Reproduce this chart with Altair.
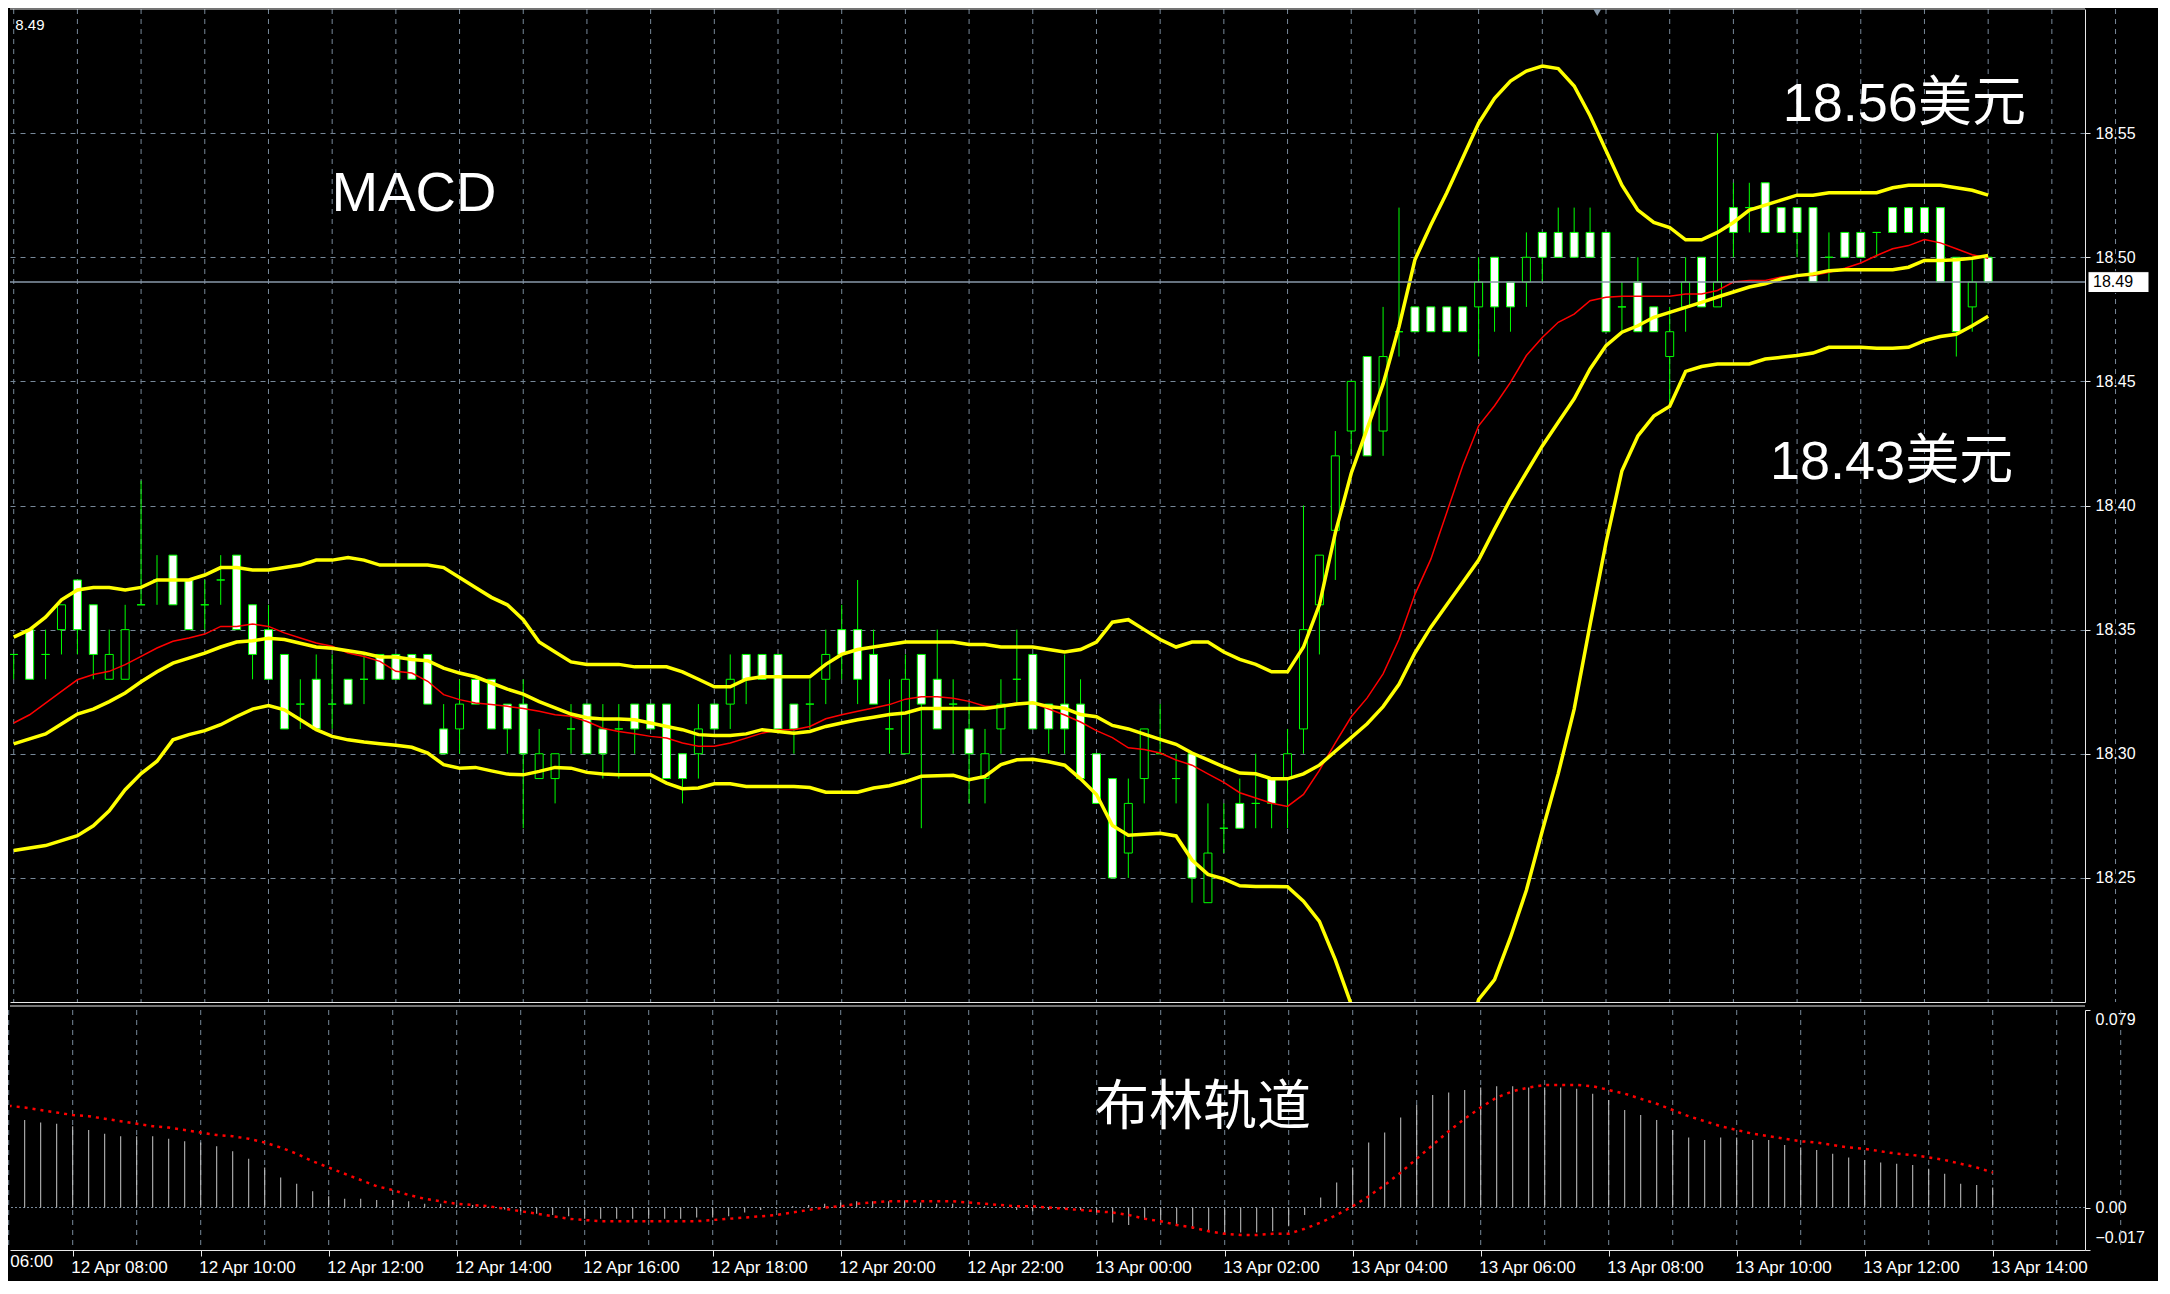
import altair as alt
import pandas as pd

# ---------------- data (15-minute bars, 12 Apr 07:00 -> 13 Apr 14:00) ----------------
bar_start = "2017-04-12 07:00"
n_bars = 125

open_p = [18.34,18.35,18.34,18.35,18.37,18.36,18.33,18.33,18.36,18.37,18.38,18.37,18.36,18.37,18.38,18.36,18.35,18.34,18.32,18.33,
          18.32,18.33,18.33,18.34,18.34,18.34,18.34,18.31,18.31,18.33,18.33,18.32,18.32,18.29,18.29,18.31,18.32,18.31,18.31,18.32,
          18.32,18.32,18.30,18.30,18.32,18.32,18.34,18.34,18.34,18.32,18.32,18.33,18.35,18.35,18.34,18.31,18.30,18.34,18.33,18.32,
          18.31,18.29,18.31,18.33,18.34,18.32,18.32,18.32,18.30,18.29,18.26,18.29,18.30,18.29,18.30,18.24,18.27,18.28,18.28,18.29,
          18.29,18.31,18.36,18.39,18.43,18.46,18.43,18.47,18.48,18.48,18.48,18.48,18.48,18.50,18.49,18.49,18.51,18.51,18.51,18.51,
          18.51,18.48,18.49,18.48,18.46,18.48,18.50,18.48,18.52,18.52,18.53,18.52,18.52,18.52,18.50,18.51,18.51,18.51,18.52,18.52,
          18.52,18.52,18.50,18.48,18.50]
high_p = [18.34,18.35,18.35,18.36,18.37,18.36,18.35,18.36,18.41,18.38,18.38,18.37,18.37,18.38,18.38,18.36,18.36,18.34,18.33,18.34,
          18.34,18.33,18.34,18.34,18.34,18.34,18.34,18.32,18.33,18.33,18.33,18.32,18.33,18.31,18.30,18.32,18.32,18.32,18.32,18.32,
          18.32,18.32,18.30,18.32,18.32,18.34,18.34,18.34,18.34,18.32,18.33,18.35,18.36,18.37,18.35,18.33,18.34,18.34,18.35,18.33,
          18.32,18.31,18.33,18.35,18.34,18.32,18.34,18.33,18.30,18.29,18.29,18.31,18.32,18.30,18.30,18.28,18.28,18.29,18.30,18.29,
          18.31,18.40,18.38,18.43,18.45,18.46,18.48,18.52,18.48,18.48,18.48,18.48,18.50,18.50,18.49,18.51,18.51,18.52,18.52,18.52,
          18.51,18.49,18.50,18.48,18.48,18.50,18.50,18.55,18.53,18.53,18.53,18.52,18.52,18.52,18.51,18.51,18.51,18.51,18.52,18.52,
          18.52,18.52,18.50,18.50,18.50]
low_p = [18.33,18.33,18.33,18.34,18.34,18.33,18.33,18.33,18.36,18.36,18.36,18.35,18.35,18.36,18.35,18.33,18.33,18.31,18.31,18.31,
         18.31,18.32,18.32,18.33,18.33,18.33,18.32,18.30,18.30,18.32,18.31,18.30,18.27,18.29,18.28,18.30,18.30,18.29,18.29,18.30,
         18.31,18.29,18.28,18.29,18.31,18.31,18.32,18.33,18.31,18.30,18.31,18.32,18.33,18.32,18.32,18.30,18.30,18.27,18.31,18.30,
         18.28,18.28,18.30,18.32,18.31,18.30,18.30,18.29,18.28,18.25,18.25,18.28,18.30,18.28,18.24,18.24,18.26,18.27,18.27,18.27,
         18.27,18.30,18.34,18.37,18.42,18.42,18.42,18.46,18.47,18.47,18.47,18.47,18.46,18.47,18.47,18.48,18.49,18.50,18.50,18.50,
         18.47,18.47,18.47,18.47,18.44,18.47,18.48,18.48,18.50,18.51,18.51,18.51,18.50,18.49,18.49,18.50,18.50,18.50,18.51,18.51,
         18.51,18.49,18.46,18.47,18.49]
close_p = [18.34,18.33,18.34,18.36,18.35,18.34,18.34,18.35,18.36,18.37,18.36,18.35,18.36,18.37,18.35,18.34,18.33,18.31,18.32,18.31,
           18.32,18.32,18.33,18.33,18.33,18.33,18.32,18.30,18.32,18.32,18.31,18.31,18.30,18.30,18.30,18.31,18.30,18.30,18.31,18.31,
           18.31,18.29,18.29,18.31,18.31,18.33,18.33,18.33,18.31,18.31,18.32,18.34,18.34,18.33,18.32,18.31,18.33,18.32,18.31,18.32,
           18.30,18.30,18.32,18.33,18.31,18.31,18.31,18.29,18.28,18.25,18.28,18.31,18.30,18.29,18.25,18.26,18.27,18.27,18.28,18.28,
           18.30,18.35,18.38,18.42,18.45,18.42,18.46,18.47,18.47,18.47,18.47,18.47,18.49,18.48,18.48,18.50,18.50,18.50,18.50,18.50,
           18.47,18.48,18.47,18.47,18.47,18.49,18.48,18.49,18.51,18.52,18.51,18.51,18.51,18.49,18.50,18.50,18.50,18.51,18.51,18.51,
           18.51,18.49,18.47,18.49,18.49]

bb_upper = [18.347,18.350,18.355,18.362,18.366,18.367,18.367,18.366,18.367,18.370,18.370,18.370,18.372,18.375,18.375,18.374,18.374,18.375,18.376,18.378,
            18.378,18.379,18.378,18.376,18.376,18.376,18.376,18.375,18.371,18.367,18.363,18.360,18.354,18.345,18.341,18.337,18.336,18.336,18.336,18.335,
            18.335,18.335,18.333,18.330,18.327,18.327,18.330,18.331,18.331,18.331,18.331,18.336,18.340,18.342,18.343,18.344,18.345,18.345,18.345,18.345,
            18.344,18.344,18.343,18.343,18.343,18.342,18.341,18.342,18.345,18.353,18.354,18.350,18.346,18.343,18.345,18.345,18.341,18.338,18.336,18.333,
            18.333,18.343,18.360,18.389,18.413,18.431,18.449,18.472,18.499,18.513,18.526,18.540,18.554,18.564,18.571,18.575,18.577,18.576,18.569,18.557,
            18.543,18.529,18.519,18.514,18.512,18.507,18.507,18.510,18.514,18.519,18.521,18.523,18.525,18.525,18.526,18.526,18.526,18.526,18.528,18.529,
            18.529,18.529,18.528,18.527,18.525]
bb_middle = [18.304,18.306,18.308,18.312,18.316,18.318,18.321,18.3245,18.329,18.333,18.3365,18.3385,18.3405,18.343,18.345,18.3455,18.3465,18.346,18.3445,18.343,
             18.3425,18.3415,18.3405,18.339,18.339,18.338,18.3375,18.3345,18.3325,18.331,18.3285,18.326,18.324,18.321,18.3185,18.316,18.3145,18.314,18.314,18.3137,
             18.3124,18.311,18.3097,18.3077,18.3074,18.3074,18.308,18.3097,18.309,18.3083,18.309,18.311,18.3124,18.3137,18.3147,18.3158,18.3164,18.3182,18.3182,18.3182,
             18.3182,18.3182,18.3191,18.320,18.3205,18.319,18.3183,18.3158,18.3149,18.3114,18.310,18.3079,18.3058,18.3038,18.3003,18.2975,18.2947,18.2922,18.2919,18.2899,
             18.2899,18.2919,18.2954,18.301,18.3065,18.3121,18.319,18.328,18.3406,18.351,18.360,18.369,18.378,18.3905,18.4025,18.4133,18.424,18.4335,18.443,18.455,
             18.4644,18.4698,18.4724,18.4758,18.4778,18.4798,18.4818,18.484,18.486,18.488,18.4893,18.4913,18.4926,18.4933,18.4946,18.495,18.495,18.495,18.495,18.496,
             18.4987,18.4987,18.499,18.4996,18.5007]
bb_lower = [18.261,18.262,18.263,18.265,18.267,18.271,18.277,18.2855,18.292,18.297,18.3056,18.3077,18.3093,18.3117,18.315,18.318,18.3194,18.3177,18.3137,18.3097,
            18.307,18.3056,18.3047,18.304,18.3034,18.3026,18.3003,18.2956,18.2942,18.2945,18.2931,18.2918,18.2915,18.2929,18.2945,18.2942,18.2925,18.2918,18.2915,18.2915,
            18.2915,18.2882,18.2859,18.2862,18.2879,18.2879,18.2868,18.2868,18.2868,18.2868,18.2864,18.2845,18.2845,18.2845,18.2862,18.2871,18.2888,18.2909,18.2911,18.2913,
            18.2895,18.2909,18.2956,18.2976,18.2978,18.2968,18.2954,18.2899,18.2836,18.2711,18.2672,18.2676,18.268,18.2669,18.2572,18.2514,18.2496,18.2468,18.2465,18.2465,
            18.2464,18.2406,18.2325,18.217,18.199,18.180,18.165,18.155,18.150,18.152,18.160,18.178,18.201,18.209,18.226,18.245,18.269,18.292,18.318,18.352,
            18.385,18.414,18.428,18.436,18.440,18.454,18.456,18.457,18.457,18.457,18.459,18.4597,18.4604,18.4614,18.4637,18.4637,18.4637,18.4633,18.4633,18.4637,
            18.4664,18.4681,18.469,18.4724,18.4762]
ma_red = [18.3124,18.3157,18.3204,18.3251,18.3298,18.3319,18.3332,18.3359,18.3392,18.3426,18.3453,18.3466,18.3482,18.3513,18.3513,18.3523,18.3513,18.3487,18.3466,18.3446,
          18.3433,18.3406,18.3392,18.3372,18.3332,18.3325,18.3292,18.3238,18.3218,18.3204,18.3198,18.3191,18.3182,18.3171,18.3157,18.3151,18.313,18.3103,18.309,18.3081,
          18.307,18.3063,18.3043,18.303,18.303,18.3043,18.3063,18.3083,18.3097,18.3097,18.311,18.3141,18.3157,18.3171,18.3184,18.3198,18.322,18.323,18.323,18.3224,
          18.3211,18.3191,18.3191,18.3204,18.3204,18.318,18.3156,18.3128,18.3093,18.3065,18.3024,18.3017,18.3003,18.2975,18.2954,18.2919,18.2885,18.2843,18.2822,18.2801,
          18.2788,18.2836,18.2933,18.3044,18.3149,18.3225,18.3322,18.3461,18.3642,18.3784,18.3972,18.416,18.4321,18.4402,18.4496,18.4604,18.4677,18.4738,18.4771,18.4825,
          18.4839,18.4843,18.4843,18.4843,18.4843,18.4852,18.4852,18.4866,18.490,18.4906,18.4906,18.492,18.4926,18.4926,18.494,18.4956,18.4977,18.5007,18.5034,18.5047,
          18.5071,18.5058,18.5034,18.501,18.4996]

# MACD main (histogram) and signal, in thousandths
macd_hist_k = [38,35,34,33.5,32.5,31,29.5,28.5,28.5,28.5,27.5,26.5,26,24.5,22.5,19.5,16,12,9.5,6.5,
               4.5,3.5,3.5,3,3,2.5,1.5,1.5,1,1,0.3,-0.8,-1.5,-2.5,-3,-3.5,-4.5,-4.5,-4.5,-4.5,
               -4.5,-4.5,-4.5,-4,-4,-3.5,-2,-1,-0.5,0.5,1,1.5,2,2.5,2.5,2.5,2.5,2,1.5,1.5,
               1,0.5,0,-1,-1.5,-1,-0.5,-1,-2,-6,-7,-5,-5.5,-7,-8.5,-9.5,-10,-10,-10,-9.5,
               -7.5,-3,4,10,16,26,30,36,41,45,46,47,48,48.5,48.5,48,48,48,47.5,45.5,
               43,39,37,35,31,28,27,28,28,27,27,25,24,23,21.5,20,19,18,17.5,17,
               15.5,13.5,9.5,9,8]
macd_signal_k = [40.7,40,39,38,37,36.5,35.5,34.5,33.5,32.5,32,31,30,29,28.5,27.5,26,24,21.5,18.5,
                 16,13.5,11,8.5,7,5,3.5,2.5,1.5,1,0.5,-0.5,-1.5,-2.5,-3.5,-4.5,-5,-5.5,-5.5,-5.5,
                 -5.5,-5.5,-5.5,-5.5,-5,-4.5,-4,-3.5,-3,-2,-1,0,0.5,1.5,2,2.5,2.5,2.5,2.5,2.5,
                 2,1.5,1,0.5,0.5,0,-0.5,-1,-1.5,-2,-3,-4.5,-5.5,-7,-8,-9.5,-10.5,-11,-11,-10.5,
                 -10.5,-8.5,-6,-3,0.5,4.5,9,14,19.5,25,30.5,35.5,40,44,46.5,48,49,49,49,48.5,
                 47,45.5,43.5,41.5,39,36.5,34.5,32.5,31,29.5,28.5,27.5,26.5,26,25,24,23.5,22.5,21.5,21,
                 20,19,17.5,16,14]

last_price = 18.49
price_ticks = [18.25, 18.30, 18.35, 18.40, 18.45, 18.50, 18.55]
macd_ticks = [0.079, 0.0, -0.017]
price_domain = [18.20, 18.60]
macd_domain = [-0.017, 0.079]
time_label_format = "%d %b %H:%M"

# annotations: (text, bar position, value, font size)
main_notes = [("MACD", 19.96, 18.5186, 56), ("18.56美元", 111.1, 18.5549, 54),
              ("18.43美元", 110.3, 18.4106, 54), ("8.49", 0.1, 18.5915, 15)]
macd_notes = [("布林轨道", 67.9, 0.033, 54), ("06:00", 0.1, -0.0236, 17)]

# ---------------- frames ----------------
t0 = pd.Timestamp(bar_start)
def tstr(pos):
    return (t0 + pd.Timedelta(minutes=15 * pos)).strftime("%Y-%m-%dT%H:%M:%S.%f")[:-3] + "Z"

times = [tstr(i) for i in range(n_bars)]
df = pd.DataFrame({"t": times, "open": open_p, "high": high_p, "low": low_p, "close": close_p,
                   "ma": ma_red, "hist": [v / 1000 for v in macd_hist_k],
                   "signal": [v / 1000 for v in macd_signal_k]})
bands = pd.concat([pd.DataFrame({"t": times, "v": vals, "band": name})
                   for name, vals in [("upper", bb_upper), ("middle", bb_middle), ("lower", bb_lower)]])
hours = pd.DataFrame({"t": [tstr(4 * k) for k in range(0, 34)]})
notes_main = pd.DataFrame([{"t": tstr(p), "v": v, "txt": s, "fs": f} for s, p, v, f in main_notes])
notes_macd = pd.DataFrame([{"t": tstr(p), "v": v, "txt": s, "fs": f} for s, p, v, f in macd_notes])
price_df = pd.DataFrame({"p": [last_price], "lo": [last_price - 0.0042], "hi": [last_price + 0.0042],
                         "lab": [f"{last_price:.2f}"]})
marker_df = pd.DataFrame({"t": [tstr(99.45)], "v": [18.5985]})

def dt(pos):
    ts = t0 + pd.Timedelta(minutes=15 * pos)
    return alt.DateTime(year=ts.year, month=ts.month, date=ts.day, hours=ts.hour,
                        minutes=ts.minute, seconds=ts.second, utc=True)

W, H1, H2 = 2075, 993, 240
GRID = "#778899"
FONT = "Liberation Sans"
CJK = "Liberation Sans, Noto Sans CJK SC"
xs = alt.Scale(type="utc", domain=[dt(0.08125), dt(0.08125 + W / 16)], nice=False)
ys = alt.Scale(domain=price_domain, nice=False, zero=False)
ms = alt.Scale(domain=macd_domain, nice=False, zero=False)

# ---------------- main pane ----------------
xgrid_main = alt.Chart(hours).mark_rule(color=GRID, strokeDash=[5, 5], strokeWidth=1).encode(
    x=alt.X("t:T", scale=xs, axis=alt.Axis(labels=False, ticks=False, grid=False, domain=True,
                                           domainColor="#E8E8E8", domainWidth=1, title=None)))
base = alt.Chart(df).encode(x=alt.X("t:T", scale=xs))
wicks = base.mark_rule(color="#00FF00", strokeWidth=1, clip=True).encode(
    y=alt.Y("low:Q", scale=ys, axis=alt.Axis(orient="right", values=price_ticks, format=".2f", title=None,
                                               grid=True, gridColor=GRID, gridDash=[5, 5], gridWidth=1,
                                               labelColor="#FFFFFF", labelFont=FONT, labelFontSize=16,
                                               labelPadding=5, tickColor="#E8E8E8", tickSize=5,
                                               domainColor="#E8E8E8", domainWidth=1)),
    y2="high:Q")
bodies = base.mark_bar(size=8, stroke="#00FF00", strokeWidth=1, clip=True).encode(
    y=alt.Y("open:Q", scale=ys), y2="close:Q",
    fill=alt.condition("datum.close < datum.open", alt.value("#FFFFFF"), alt.value("#000000")))
red = base.mark_line(color="#FF0000", strokeWidth=1.5, clip=True).encode(y=alt.Y("ma:Q", scale=ys))
yellow = alt.Chart(bands).mark_line(color="#FFFF00", strokeWidth=3.5, clip=True).encode(
    x=alt.X("t:T", scale=xs), y=alt.Y("v:Q", scale=ys), detail="band:N")
price_line = alt.Chart(price_df).mark_rule(color="#8899AA", strokeWidth=1.5).encode(y=alt.Y("p:Q", scale=ys))
price_box = alt.Chart(price_df).mark_rect(fill="#FFFFFF", stroke="#000000", strokeWidth=1).encode(
    x=alt.value(W + 3), x2=alt.value(W + 64), y=alt.Y("lo:Q", scale=ys), y2="hi:Q")
price_txt = alt.Chart(price_df).mark_text(align="left", baseline="middle", font=FONT, fontSize=16,
                                          color="#000000").encode(
    x=alt.value(W + 8), y=alt.Y("p:Q", scale=ys), text="lab:N")
top_border = alt.Chart(price_df).mark_rule(color="#E8E8E8", strokeWidth=1).encode(
    x=alt.value(0), x2=alt.value(W), y=alt.value(0))
marker = alt.Chart(marker_df).mark_point(shape="triangle-down", filled=True, color="#8899AA", size=60,
                                         opacity=1).encode(x=alt.X("t:T", scale=xs), y=alt.Y("v:Q", scale=ys))
txt_main = alt.Chart(notes_main).mark_text(align="left", baseline="alphabetic", font=CJK,
                                           color="#FFFFFF").encode(
    x=alt.X("t:T", scale=xs), y=alt.Y("v:Q", scale=ys), text="txt:N",
    size=alt.Size("fs:Q", scale=None, legend=None))

main = alt.layer(xgrid_main, wicks, bodies, red, yellow, price_line, price_box, price_txt,
                 top_border, marker, txt_main).properties(width=W, height=H1)

# ---------------- MACD pane ----------------
xgrid_macd = alt.Chart(hours).mark_rule(color=GRID, strokeDash=[5, 5], strokeWidth=1).encode(
    x=alt.X("t:T", scale=xs, axis=alt.Axis(values=[dt(4 + 8 * k) for k in range(16)],
                                           labelExpr=f"utcFormat(datum.value, '{time_label_format}')",
                                           title=None,
                                           grid=False, labelColor="#FFFFFF", labelFont=FONT,
                                           labelFontSize=17, labelAlign="left", labelBaseline="top",
                                           labelPadding=3, labelOffset=-2, labelOverlap=False,
                                           labelFlush=False, tickColor="#E8E8E8", tickSize=6,
                                           domainColor="#E8E8E8", domainWidth=1)))
zero_line = alt.Chart(price_df).mark_rule(color=GRID, strokeDash=[2, 2], strokeWidth=1).encode(
    y=alt.datum(0, scale=ms))
mbase = alt.Chart(df).encode(x=alt.X("t:T", scale=xs))
hist = mbase.mark_rule(color="#C8C8C8", strokeWidth=1, clip=True).encode(
    y=alt.Y("hist:Q", scale=ms, axis=alt.Axis(
        orient="right", values=macd_ticks, title=None, grid=False,
        labelExpr="datum.value == 0 ? '0.00' : format(datum.value, '.3f')",
        labelBaseline="middle",
        labelOffset={"condition": [{"test": "datum.value > 0.05", "value": 9},
                                   {"test": "datum.value < -0.01", "value": -13}],
                     "value": 0},
        labelColor="#FFFFFF", labelFont=FONT, labelFontSize=16, labelPadding=5,
        tickColor="#E8E8E8", tickSize=5, domainColor="#E8E8E8", domainWidth=1)),
    y2=alt.datum(0))
signal = mbase.mark_line(color="#FF0000", strokeWidth=2.5, strokeDash=[3, 5], clip=True).encode(
    y=alt.Y("signal:Q", scale=ms))
macd_top = alt.Chart(price_df).mark_rule(color="#E8E8E8", strokeWidth=1).encode(
    x=alt.value(0), x2=alt.value(W), y=alt.value(-4))
txt_macd = alt.Chart(notes_macd).mark_text(align="left", baseline="alphabetic", font=CJK,
                                           color="#FFFFFF").encode(
    x=alt.X("t:T", scale=xs), y=alt.Y("v:Q", scale=ms), text="txt:N",
    size=alt.Size("fs:Q", scale=None, legend=None))

macd = alt.layer(xgrid_macd, zero_line, hist, signal, macd_top, txt_macd).properties(width=W, height=H2)

chart = alt.vconcat(main, macd, spacing=2).properties(
    background="#000000", padding={"left": 0, "top": 0, "right": 8, "bottom": 6}
).configure_view(strokeWidth=0)

chart.save("out.html", embed_options={"renderer": "svg", "actions": False})
